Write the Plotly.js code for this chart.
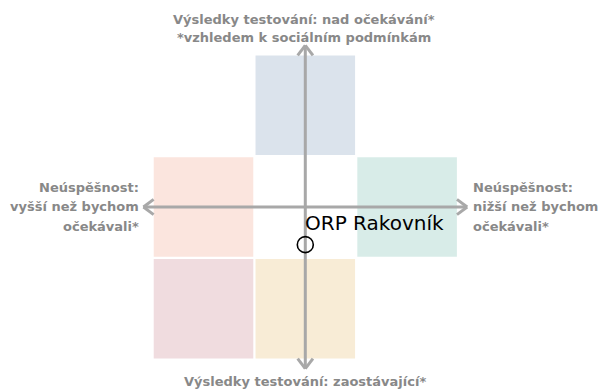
<!DOCTYPE html>
<html>
<head>
<meta charset="utf-8">
<script src="https://cdn.plot.ly/plotly-3.0.1.min.js"></script>
<style>
  html, body { margin: 0; padding: 0; background: #fff; }
  #chart { width: 600px; height: 389px; }
</style>
</head>
<body>
<div id="chart"></div>
<script>
// quadrant squares (grid cells, centre cell left empty)
var cellCols = [0, -1, 1, -1, 0];
var cellRows = [1, 0, 0, -1, -1];
var cellColors = ["#dbe3ec", "#fbe5de", "#d8ece8", "#f0dcdf", "#f8ecd6"];

// the ORP point
var pointX = [0.0];
var pointY = [-0.37];
var pointNames = ["ORP Rakovník"];

// label texts
var topLines = ["Výsledky testování: nad očekávání*", "*vzhledem k sociálním podmínkám"];
var bottomLines = ["Výsledky testování: zaostávající*"];
var leftLines = ["Neúspěšnost:", "vyšší než bychom", "očekávali*"];
var rightLines = ["Neúspěšnost:", "nižší než bychom", "očekávali*"];

var W = 600, H = 389;
var half = 0.489;      // half size of a square
var axLen = 1.59;      // length of the arrow axes
var headBack = 0.1, headOut = 0.075;
var axisGray = "#a8a8a8";
var labelGray = "#888888";

var shapes = [];
for (var i = 0; i < cellCols.length; i++) {
  shapes.push({
    type: "rect", layer: "below", line: {width: 0},
    x0: cellCols[i] - half, x1: cellCols[i] + half,
    y0: cellRows[i] - half, y1: cellRows[i] + half,
    fillcolor: cellColors[i]
  });
}
function seg(x0, y0, x1, y1) {
  shapes.push({type: "line", layer: "below", x0: x0, y0: y0, x1: x1, y1: y1,
    line: {color: axisGray, width: 3}});
}
// the cross
seg(-axLen, 0, axLen, 0);
seg(0, -axLen, 0, axLen);
// open arrow heads
[1, -1].forEach(function(s){
  seg(s*axLen, 0, s*(axLen - headBack), headOut);
  seg(s*axLen, 0, s*(axLen - headBack), -headOut);
  seg(0, s*axLen, headOut, s*(axLen - headBack));
  seg(0, s*axLen, -headOut, s*(axLen - headBack));
});

var annotations = [];
function lbl(text, px, py, anchor) {
  annotations.push({
    text: "<b>" + text + "</b>", xref: "paper", yref: "paper",
    x: px / W, y: 1 - py / H, xanchor: anchor, yanchor: "middle",
    showarrow: false,
    font: {family: "DejaVu Sans", size: 13, color: labelGray}
  });
}
topLines.forEach(function(t, k){ lbl(t, 304, 19 + k*19, "center"); });
bottomLines.forEach(function(t, k){ lbl(t, 305, 381, "center"); });
leftLines.forEach(function(t, k){ lbl(t, 141, 187 + k*19.5, "right"); });
rightLines.forEach(function(t, k){ lbl(t, 471, 187 + k*19.5, "left"); });

// point label
for (var j = 0; j < pointX.length; j++) {
  annotations.push({
    text: pointNames[j], x: pointX[j], y: pointY[j],
    xanchor: "left", yanchor: "bottom", xshift: -2, yshift: 8, showarrow: false,
    font: {family: "DejaVu Sans", size: 20, color: "#000"}
  });
}

var data = [{
  x: pointX, y: pointY, type: "scatter", mode: "markers",
  marker: {symbol: "circle-open", size: 16, color: "#000", line: {width: 1.6, color: "#000"}},
  hoverinfo: "skip"
}];

var unitX = 101.8, unitY = 101.7, cx = 305.3, cy = 207;
var axisOff = {visible: false, showgrid: false, zeroline: false, fixedrange: true};
var layout = {
  width: W, height: H,
  margin: {l: 0, r: 0, t: 0, b: 0},
  paper_bgcolor: "#fff", plot_bgcolor: "#fff",
  showlegend: false,
  xaxis: Object.assign({range: [-cx/unitX, (W - cx)/unitX]}, axisOff),
  yaxis: Object.assign({range: [(cy - H)/unitY, cy/unitY]}, axisOff),
  shapes: shapes,
  annotations: annotations
};

Plotly.newPlot("chart", data, layout, {staticPlot: true});
</script>
</body>
</html>
